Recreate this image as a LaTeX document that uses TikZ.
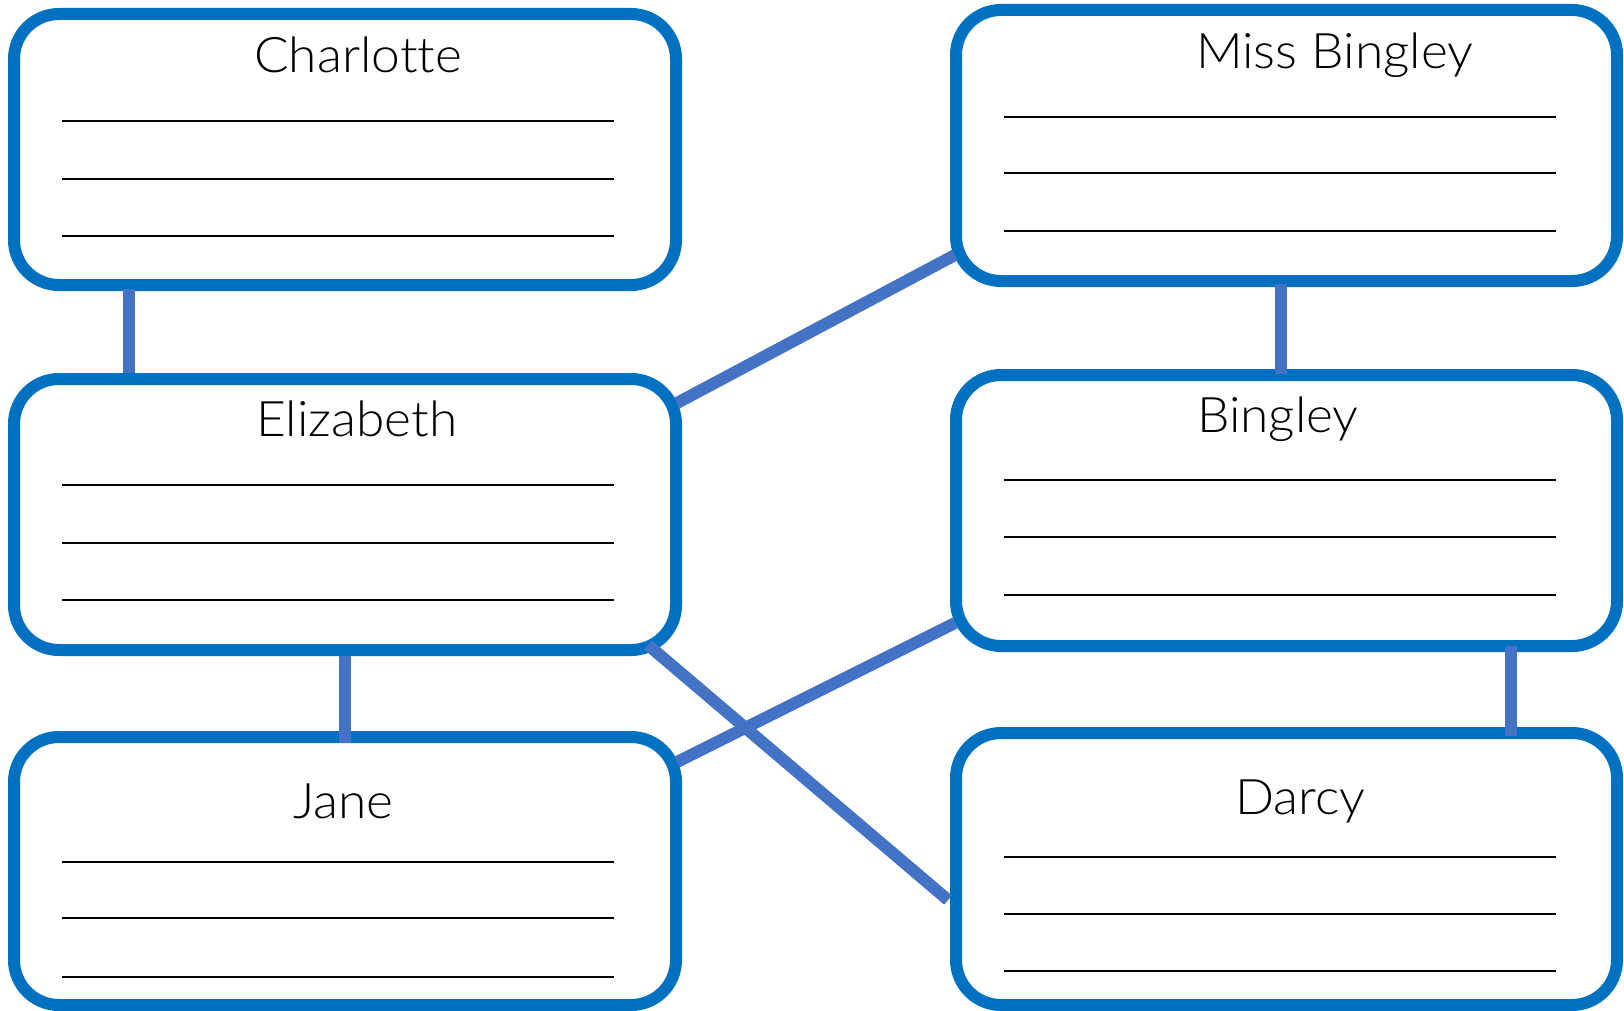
\documentclass[tikz,border=0pt]{standalone}
\usepackage{fontspec}
\setmainfont{Lato Light}[FakeStretch=1.05,Ligatures=NoCommon]
\usetikzlibrary{positioning}
\definecolor{boxblue}{HTML}{0070C0}
\definecolor{linkblue}{HTML}{4472C4}
\tikzset{
  card/.style={draw=boxblue, line width=12pt, rounded corners=45pt, fill=white,
    minimum width=662pt, minimum height=271pt, inner sep=0pt},
  title/.style={anchor=base west, inner sep=0pt, font=\fontsize{49}{49}\selectfont},
  link/.style={draw=linkblue, line width=12pt},
  rule/.style={line width=1.8pt}
}
\begin{document}
\begin{tikzpicture}[x=1pt,y=-1pt]
\useasboundingbox (0,0) rectangle (1624,1011);

% the six cards
\node[card] (charlotte) at (345,149.5) {};
\node[card] (elizabeth) at (345,514.5) {};
\node[card, minimum height=268pt] (jane) at (345,871) {};
\node[card, minimum width=661pt] (missbingley) at (1286.5,145.5) {};
\node[card, minimum width=661pt] (bingley) at (1286.5,510.5) {};
\node[card, minimum width=661pt, minimum height=272pt] (darcy) at (1286.5,869) {};

\node[title] (tcharlotte) at (254,73) {Charlotte};
\node[title] (telizabeth) at (256,436) {Elizabeth};
\node[title] (tjane) at (293,818) {Jane};
\node[title] (tmissbingley) at (1196,69) {Miss Bingley};
\node[title] (tbingley) at (1197,432) {Bingley};
\node[title] (tdarcy) at (1235,814) {Darcy};

% lines to write on
\draw[rule] (62,121) -- (614,121);
\draw[rule] (62,179) -- (614,179);
\draw[rule] (62,236) -- (614,236);
\draw[rule] (62,485) -- (614,485);
\draw[rule] (62,543) -- (614,543);
\draw[rule] (62,600) -- (614,600);
\draw[rule] (62,862) -- (614,862);
\draw[rule] (62,918) -- (614,918);
\draw[rule] (62,977) -- (614,977);

\draw[rule] (1004,117) -- (1556,117);
\draw[rule] (1004,173) -- (1556,173);
\draw[rule] (1004,231) -- (1556,231);
\draw[rule] (1004,480) -- (1556,480);
\draw[rule] (1004,537) -- (1556,537);
\draw[rule] (1004,595) -- (1556,595);
\draw[rule] (1004,857) -- (1556,857);
\draw[rule] (1004,914) -- (1556,914);
\draw[rule] (1004,971) -- (1556,971);

% links
\draw[link] ([xshift=-216pt,yshift=2pt]charlotte.south) -- ([xshift=-216pt]elizabeth.north);
\draw[link] (elizabeth.south) -- ([yshift=-12pt]jane.north);
\draw[link] ([xshift=-5.5pt,yshift=3pt]missbingley.south) -- ([xshift=-5.5pt,yshift=-5pt]bingley.north);
\draw[link] ([xshift=224.5pt,yshift=6pt]bingley.south) -- ([xshift=224.5pt,yshift=-9pt]darcy.north);
\draw[link] ([xshift=-5pt,yshift=-30pt]elizabeth.north east) -- ([xshift=5pt,yshift=32pt]missbingley.south west);
\draw[link] ([xshift=-5pt,yshift=-31pt]jane.north east) -- ([xshift=5pt,yshift=29pt]bingley.south west);
\draw[link] ([xshift=-34pt,yshift=11pt]elizabeth.south east) -- ([xshift=-2pt,yshift=-31pt]darcy.west);

\end{tikzpicture}
\end{document}
